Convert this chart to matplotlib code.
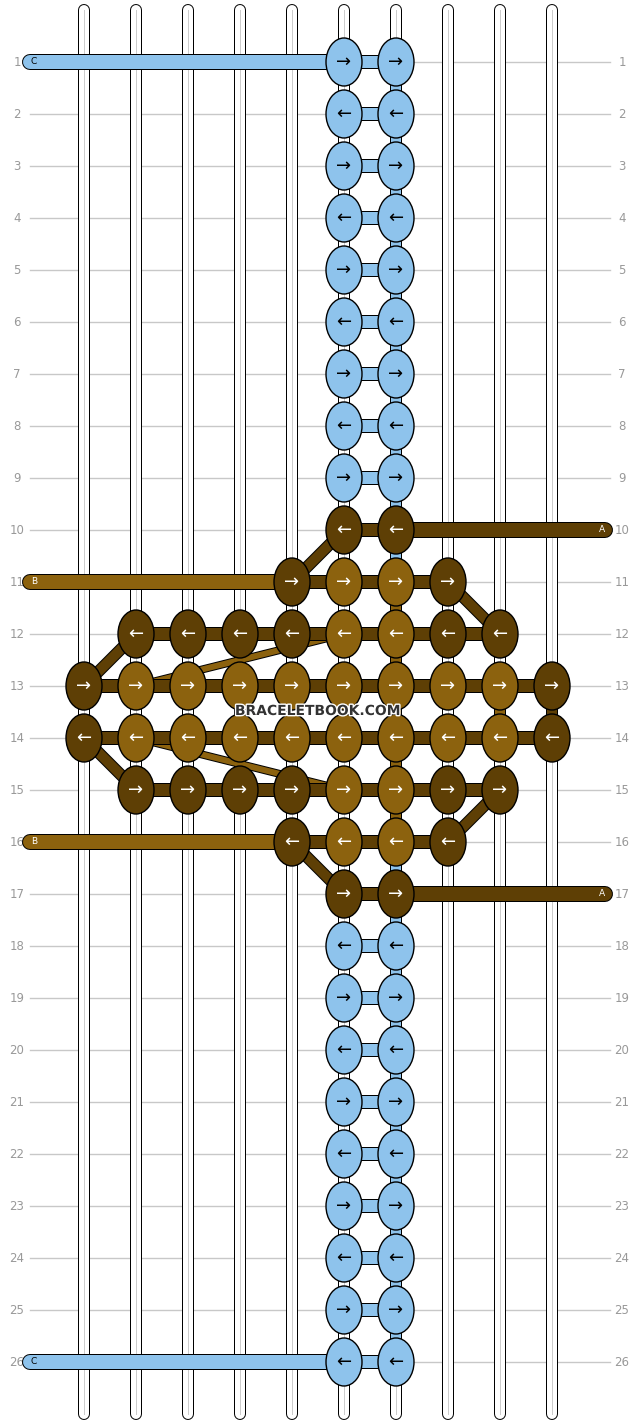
import matplotlib.pyplot as plt
import matplotlib.patheffects as pe
from matplotlib.patches import Ellipse

# knot colours per row (one char per string column): L light blue, M medium brown, D dark brown
knot_rows = (
    [".....LL..."] * 9 +
    [".....DD...",
     "....DMMD..",
     ".DDDDMMDD.",
     "DMMMMMMMMD",
     "DMMMMMMMMD",
     ".DDDDMMDD.",
     "....DMMD..",
     ".....DD..."] +
    [".....LL..."] * 9
)
# knot direction per row: R -> , L <-
directions = list("RLRLRLRLR" + "LRLRLRLR" + "LRLRLRLRL")

colours = {"L": "#8ec3ec", "M": "#8c620e", "D": "#5e3f05"}
col_x = [84, 136, 188, 240, 292, 344, 396, 448, 500, 552]
row_y = [62 + 52 * i for i in range(26)]

# threads entering from the side: (row, colour, from x, to column, label)
side_threads = [(1, "L", 30, 5, "C"), (26, "L", 30, 5, "C"),
                (11, "M", 30, 4, "B"), (16, "M", 30, 4, "B"),
                (10, "D", 605, 6, "A"), (17, "D", 605, 6, "A")]
# diagonal thread moves: (row1, col1, row2, col2, colour)
diagonals = [(10, 5, 11, 4, "D"), (11, 7, 12, 8, "D"), (12, 1, 13, 0, "D"),
             (14, 0, 15, 1, "D"), (15, 8, 16, 7, "D"), (16, 4, 17, 5, "D")]
thin_diagonals = [(13, 1, 12, 5, "M"), (14, 1, 15, 5, "M")]

fig = plt.figure(figsize=(6.36, 14.24), dpi=100)
ax = fig.add_axes([0, 0, 1, 1])
ax.set_xlim(0, 636)
ax.set_ylim(1424, 0)
ax.axis("off")

px = 0.72

def thread(xs, ys, c, w, z):
    ax.plot(xs, ys, color=c, lw=w * px, solid_capstyle="butt", zorder=z,
            path_effects=[pe.Stroke(linewidth=(w + 2) * px, foreground="black"), pe.Normal()])

# grid rows and numbers
for i, y in enumerate(row_y):
    ax.plot([30, 610], [y, y], color="#c8c8c8", lw=1, zorder=0)
    ax.text(17, y, str(i + 1), color="#999999", fontsize=8.5, ha="center", va="center", zorder=0.5)
    ax.text(622, y, str(i + 1), color="#999999", fontsize=8.5, ha="center", va="center", zorder=0.5,
            bbox=dict(facecolor="white", edgecolor="none", pad=1))

# vertical strings
for x in col_x:
    ax.plot([x, x], [10, 1414], color="black", lw=12 * px, solid_capstyle="round", zorder=1)
    ax.plot([x, x], [10, 1414], color="white", lw=10 * px, solid_capstyle="round", zorder=1)
    ax.plot([x, x], [10, 1414], color="#cccccc", lw=1 * px, zorder=1)

# side threads
for r, c, x0, ci, lab in side_threads:
    y = row_y[r - 1]
    ax.plot([x0, col_x[ci]], [y, y], color="black", lw=16 * px, solid_capstyle="round", zorder=2)
    ax.plot([x0, col_x[ci]], [y, y], color=colours[c], lw=14 * px, solid_capstyle="round", zorder=2)
    ax.text(x0 + (4 if x0 < 300 else -3), y, lab, fontsize=6.5,
            color="black" if c == "L" else "white", ha="center", va="center", zorder=3)

for r1, c1, r2, c2, c in diagonals:
    thread([col_x[c1], col_x[c2]], [row_y[r1 - 1], row_y[r2 - 1]], colours[c], 10, 2)
for r1, c1, r2, c2, c in thin_diagonals:
    thread([col_x[c1], col_x[c2]], [row_y[r1 - 1], row_y[r2 - 1]], colours[c], 6, 2)

# horizontal connectors and vertical stubs
for i, row in enumerate(knot_rows):
    idx = [j for j, ch in enumerate(row) if ch != "."]
    hc = "L" if "L" in row else "D"
    for a, b in zip(idx[:-1], idx[1:]):
        thread([col_x[a], col_x[b]], [row_y[i], row_y[i]], colours[hc], 12, 2)
    if i + 1 < len(knot_rows):
        for j in idx:
            ch2 = knot_rows[i + 1][j]
            if ch2 == ".":
                continue
            if j == 6:
                stub = "M" if (row[j] == "M" and ch2 == "M") else "L"
            elif j == 8 and row[j] == "M" and ch2 == "M":
                stub = "M"
            elif j == 9:
                stub = "D"
            else:
                stub = None
            if stub:
                thread([col_x[j], col_x[j]], [row_y[i], row_y[i + 1]], colours[stub], 10, 2)

# knots
for i, row in enumerate(knot_rows):
    arrow = "\u2192" if directions[i] == "R" else "\u2190"
    for j, ch in enumerate(row):
        if ch == ".":
            continue
        ax.add_patch(Ellipse((col_x[j], row_y[i]), 36, 48, facecolor=colours[ch],
                             edgecolor="black", lw=1, zorder=4))
        ax.text(col_x[j], row_y[i], arrow, fontsize=13,
                color="black" if ch == "L" else "white", ha="center", va="center", zorder=5)

ax.text(318, 711, "BRACELETBOOK.COM", fontsize=10, fontweight="bold", color="#333333",
        ha="center", va="center", zorder=6,
        path_effects=[pe.withStroke(linewidth=2, foreground="white")])

fig.savefig("out.png", dpi=100)
